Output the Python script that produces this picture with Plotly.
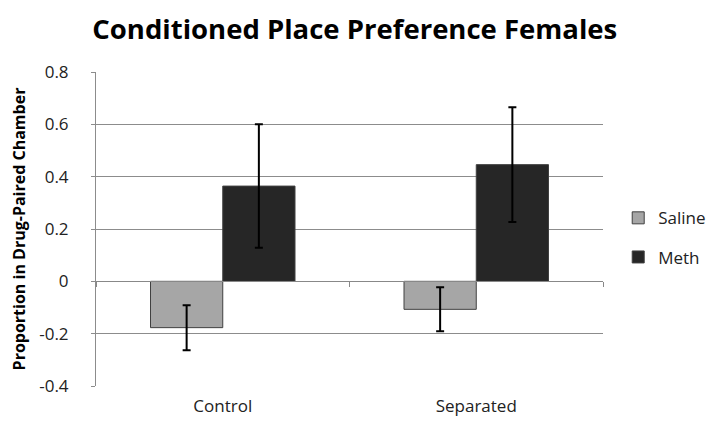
import plotly.graph_objects as go

groups = ["Control", "Separated"]
saline = [-0.177, -0.107]
saline_err = [0.086, 0.084]
meth = [0.364, 0.446]
meth_err = [0.236, 0.219]
yticks = [-0.4, -0.2, 0, 0.2, 0.4, 0.6, 0.8]
ytick_text = ["-0.4", "-0.2", "0", "0.2", "0.4", "0.6", "0.8"]

font = "Open Sans"

fig = go.Figure()
fig.add_trace(go.Bar(x=groups, y=saline, name="Saline", legendgroup="s",
                     marker=dict(color="#a6a6a6", line=dict(color="#404040", width=1)),
                     error_y=dict(type="data", array=saline_err, color="black", thickness=2, width=4)))
fig.add_trace(go.Bar(x=groups, y=meth, name="Meth", legendgroup="m",
                     marker=dict(color="#262626", line=dict(color="#404040", width=1)),
                     error_y=dict(type="data", array=meth_err, color="black", thickness=2, width=4)))
# invisible trace to carry the category tick axis sitting on the zero line
fig.add_trace(go.Scatter(x=[0, 1], y=[0, 0], xaxis="x2", mode="lines",
                         line=dict(width=0), showlegend=False, hoverinfo="skip"))

fig.update_layout(
    width=715, height=421,
    margin=dict(l=88, r=108, t=64, b=43),
    paper_bgcolor="white", plot_bgcolor="white",
    font=dict(family=font, size=17, color="#222"),
    title=dict(text="<b>Conditioned Place Preference Females</b>", x=0.485, xanchor="center",
               y=0.95, yanchor="middle", font=dict(size=27.5, color="black", family=font)),
    barmode="group", bargap=0.43, bargroupgap=0,
    legend=dict(x=1.03, y=0.472, xanchor="left", yanchor="middle", tracegroupgap=14,
                font=dict(size=17, color="#222")),
    xaxis=dict(range=[-0.5, 1.5], showline=False, showgrid=False, ticks="",
               ticklabelstandoff=8,
               tickfont=dict(size=17, color="#222"), automargin=False),
    xaxis2=dict(overlaying="x", anchor="free", position=1/3, range=[-0.5, 1.5],
                tickvals=[-0.5, 0.5, 1.5], ticks="outside", ticklen=5, tickcolor="#888",
                showticklabels=False, showline=True, linecolor="#888", linewidth=1,
                showgrid=False, zeroline=False),
    yaxis=dict(range=[-0.4, 0.8], tickvals=yticks, ticktext=ytick_text, automargin=False,
               showgrid=True, gridcolor="#8c8c8c", gridwidth=1, zeroline=False,
               showline=True, linecolor="#8c8c8c", ticks="outside", ticklen=4,
               tickcolor="#8c8c8c", tickfont=dict(size=17, color="#222"),
               ticklabelstandoff=19,
               title=dict(text="<b>Proportion in Drug-Paired Chamber</b>",
                          font=dict(size=16, color="black"), standoff=9)),
)

fig.write_html("out.html")
